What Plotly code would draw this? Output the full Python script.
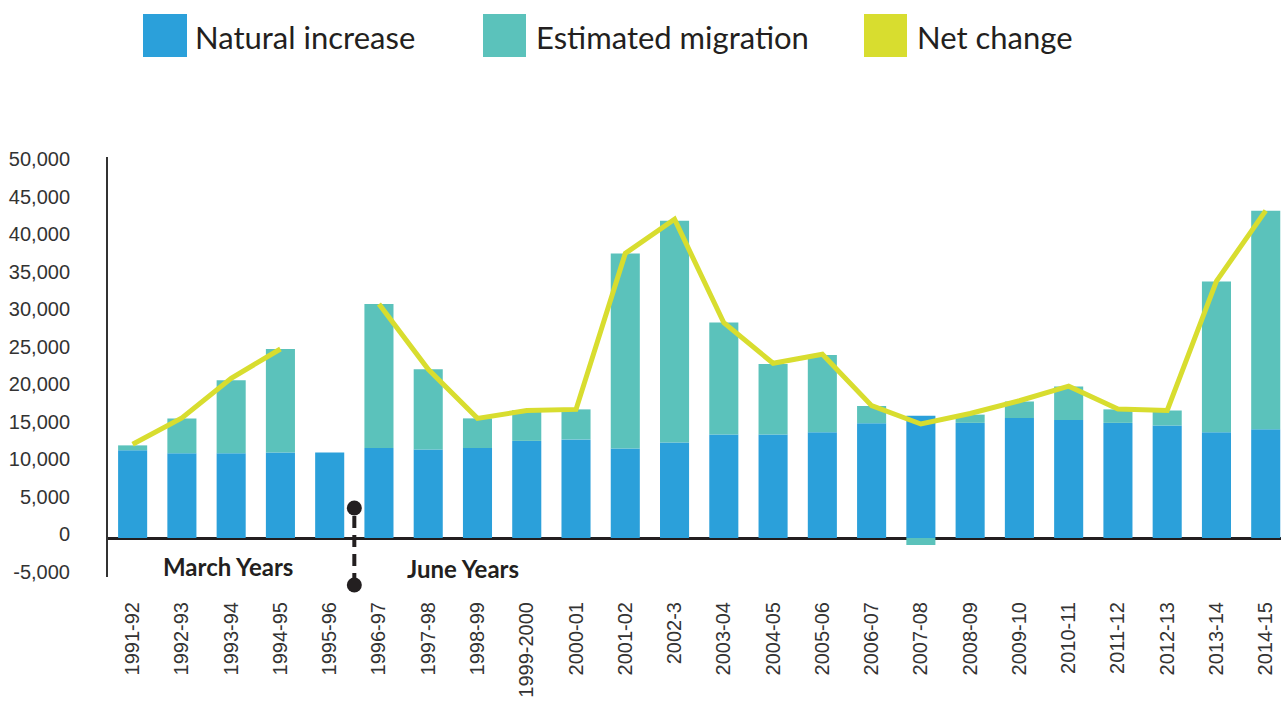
import plotly.graph_objects as go

years = ["1991-92", "1992-93", "1993-94", "1994-95", "1995-96", "1996-97", "1997-98",
         "1998-99", "1999-2000", "2000-01", "2001-02", "2002-3", "2003-04", "2004-05",
         "2005-06", "2006-07", "2007-08", "2008-09", "2009-10", "2010-11", "2011-12",
         "2012-13", "2013-14", "2014-15"]
natural_increase = [11700, 11300, 11300, 11400, 11400, 12000, 11800, 12000, 12950, 13150,
                    11950, 12750, 13800, 13800, 14100, 15300, 16300, 15350, 16000, 15750,
                    15350, 15000, 14100, 14500]
estimated_migration = [650, 4650, 9750, 13800, 0, 19200, 10700, 3950, 4100, 4000,
                       26000, 29550, 14950, 9400, 10300, 2300, -930, 1100, 2200, 4450,
                       1800, 2000, 20100, 29150]
net_change = [12500, 16000, 21300, 25200, None, 31200, 22500, 15950, 17000, 17150,
              37950, 42500, 28700, 23300, 24500, 17650, 15200, 16600, 18300, 20250,
              17200, 17000, 34250, 43650]
y_ticks = [-5000, 0, 5000, 10000, 15000, 20000, 25000, 30000, 35000, 40000, 45000, 50000]
y_tick_labels = ["-5,000", "0", "5,000", "10,000", "15,000", "20,000", "25,000",
                 "30,000", "35,000", "40,000", "45,000", "50,000"]
legend_names = ["Natural increase", "Estimated migration", "Net change"]

C_BLUE = "#2BA0DA"
C_TEAL = "#5BC2BB"
C_LIME = "#D8DD2F"
C_DARK = "#231F20"

W, H = 1281, 704
L, R, T, B = 108, 1281, 157, 577


def px_x(p):
    return (p - L) / (R - L)


def px_y(p):
    return (B - p) / (B - T)


fig = go.Figure()
fig.add_trace(go.Bar(x=years, y=natural_increase, name=legend_names[0],
                     marker=dict(color=C_BLUE, line=dict(width=0))))
fig.add_trace(go.Bar(x=years, y=estimated_migration, name=legend_names[1],
                     marker=dict(color=C_TEAL, line=dict(width=0))))
fig.add_trace(go.Scatter(x=years, y=net_change, name=legend_names[2], mode="lines",
                         line=dict(color=C_LIME, width=5), connectgaps=False))

shapes = []
annotations = []
# manual legend
leg_sq = [(143, 187), (483, 526), (864, 907)]
leg_txt = [193, 534, 915]
leg_col = [C_BLUE, C_TEAL, C_LIME]
for (a, b), tx, col, name in zip(leg_sq, leg_txt, leg_col, legend_names):
    shapes.append(dict(type="rect", xref="paper", yref="paper",
                       x0=px_x(a), x1=px_x(b), y0=px_y(57), y1=px_y(14),
                       fillcolor=col, line=dict(width=0)))
    annotations.append(dict(xref="paper", yref="paper", x=px_x(tx), y=px_y(37),
                            xanchor="left", yanchor="middle", showarrow=False,
                            text=name, font=dict(family="Lato", size=31, color=C_DARK)))

# divider between March years and June years
shapes.append(dict(type="line", xref="x", yref="paper", x0=4.5, x1=4.5,
                   y0=px_y(585), y1=px_y(508),
                   line=dict(color=C_DARK, width=4, dash="12px,7px")))
for yy in (508, 585):
    shapes.append(dict(type="circle", xref="x", yref="paper", xsizemode="pixel",
                       ysizemode="pixel", xanchor=4.5, yanchor=px_y(yy),
                       x0=-7.5, x1=7.5, y0=-7.5, y1=7.5,
                       fillcolor=C_DARK, line=dict(width=0)))

annotations.append(dict(xref="paper", yref="paper", x=px_x(228), y=px_y(566),
                        xanchor="center", yanchor="middle", showarrow=False,
                        text="<b>March Years</b>",
                        font=dict(family="Lato", size=24, color=C_DARK)))
annotations.append(dict(xref="paper", yref="paper", x=px_x(463), y=px_y(568),
                        xanchor="center", yanchor="middle", showarrow=False,
                        text="<b>June Years</b>",
                        font=dict(family="Lato", size=24, color=C_DARK)))

fig.update_layout(
    width=W, height=H,
    margin=dict(l=L, r=W - R, t=T, b=H - B, pad=0),
    paper_bgcolor="white", plot_bgcolor="white",
    barmode="relative", bargap=0.41,
    showlegend=False,
    shapes=shapes, annotations=annotations,
    font=dict(family="Liberation Sans", color="#333333"),
)
fig.update_xaxes(type="category", range=[-0.5, 23.31], tickangle=-90,
                 showgrid=False, showline=False, ticks="", ticklabelstandoff=20,
                 tickfont=dict(family="Liberation Sans", size=20, color="#333333"))
fig.update_yaxes(range=[-5200, 50800], tickvals=y_ticks, ticktext=y_tick_labels,
                 showgrid=False, showline=True, linecolor="#333333", linewidth=2,
                 zeroline=True, zerolinecolor=C_DARK, zerolinewidth=3,
                 ticks="", ticklabelstandoff=32, ticklabelshift=-4,
                 tickfont=dict(family="Liberation Sans", size=20, color="#333333"))

fig.write_html("out.html")
